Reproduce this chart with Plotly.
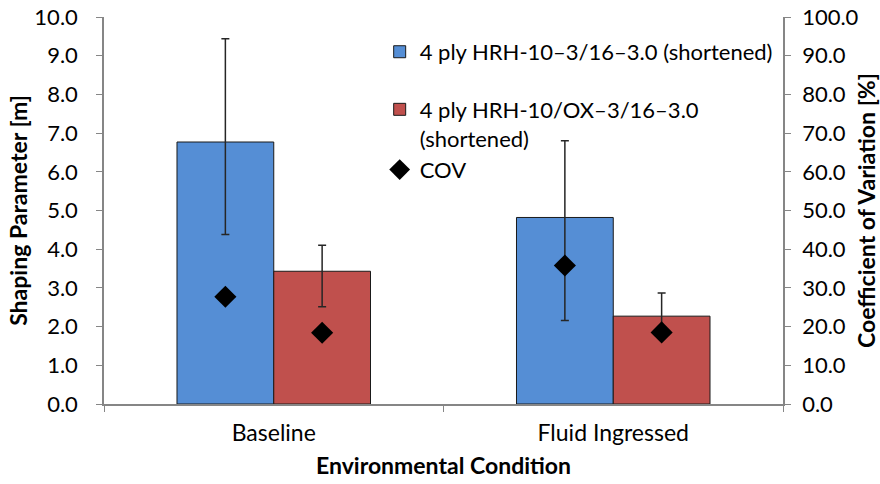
import plotly.graph_objects as go

# Environmental conditions on the x axis
conditions = ["Baseline", "Fluid Ingressed"]

# Shaping parameter [m] per laminate, with asymmetric error limits
hrh_names = "4 ply HRH-10–3/16–3.0 (shortened)"
ox_names = "4 ply HRH-10/OX–3/16–3.0<br>(shortened)"

hrh_shape = [6.77, 4.82]
hrh_err_plus = [2.67, 1.98]
hrh_err_minus = [2.39, 2.66]

ox_shape = [3.43, 2.27]
ox_err_plus = [0.67, 0.60]
ox_err_minus = [0.92, 0.47]

# Coefficient of variation [%]
hrh_cov = [27.7, 35.8]
ox_cov = [18.4, 18.5]

BLUE = "#558ED5"
RED = "#C0504D"
AXIS_GREY = "#868686"
FONT = "Lato"

fig = go.Figure()

err_style = dict(type="data", symmetric=False, color="#262626", thickness=1.5, width=4)

fig.add_trace(go.Bar(
    x=conditions, y=hrh_shape, name=hrh_names,
    marker=dict(color=BLUE, line=dict(color="#1a1a1a", width=1)),
    error_y=dict(array=hrh_err_plus, arrayminus=hrh_err_minus, **err_style),
    offsetgroup="hrh", legendgroup="g1",
))
fig.add_trace(go.Bar(
    x=conditions, y=ox_shape, name=ox_names,
    marker=dict(color=RED, line=dict(color="#1a1a1a", width=1)),
    error_y=dict(array=ox_err_plus, arrayminus=ox_err_minus, **err_style),
    offsetgroup="ox", legendgroup="g2",
))

diamond = dict(symbol="diamond", size=17, color="black")
fig.add_trace(go.Scatter(
    x=conditions, y=hrh_cov, yaxis="y2", mode="markers", marker=diamond,
    offsetgroup="hrh", name="COV", showlegend=False, legendgroup="g2",
))
fig.add_trace(go.Scatter(
    x=conditions, y=ox_cov, yaxis="y2", mode="markers", marker=diamond,
    offsetgroup="ox", name="COV", legendgroup="g2",
))

tick_font = dict(family=FONT, size=22)
title_font = dict(family=FONT, size=23)

fig.update_layout(
    width=880, height=484,
    margin=dict(l=104, r=97, t=17, b=80),
    plot_bgcolor="white", paper_bgcolor="white",
    font=dict(family=FONT, size=22, color="black"),
    barmode="group", bargap=0.43, bargroupgap=0,
    scattermode="group",
    showlegend=True,
    legend=dict(
        x=0.406, y=0.964, xanchor="left", yanchor="top",
        bgcolor="rgba(0,0,0,0)", font=dict(family=FONT, size=22),
        traceorder="grouped", tracegroupgap=26, valign="top",
        itemwidth=30,
    ),
    xaxis=dict(
        type="category", showline=True, linecolor=AXIS_GREY, linewidth=1.5,
        ticks="outside", tickson="boundaries", ticklen=6, tickcolor=AXIS_GREY,
        showgrid=False, zeroline=False, automargin=False,
        tickfont=dict(family=FONT, size=23), ticklabelstandoff=8,
        title=dict(text="<b>Environmental Condition</b>", font=title_font, standoff=13),
    ),
    yaxis=dict(
        range=[0, 10], dtick=1, tickformat=".1f",
        showline=True, linecolor=AXIS_GREY, linewidth=1.5,
        ticks="outside", ticklen=6, tickcolor=AXIS_GREY,
        showgrid=False, zeroline=False, automargin=False,
        tickfont=tick_font, ticklabelstandoff=14,
        title=dict(text="<b>Shaping Parameter [m]</b>", font=title_font, standoff=0),
    ),
    yaxis2=dict(
        range=[0, 100], dtick=10, tickformat=".1f", overlaying="y", side="right",
        showline=True, linecolor=AXIS_GREY, linewidth=1.5,
        ticks="outside", ticklen=6, tickcolor=AXIS_GREY,
        showgrid=False, zeroline=False, automargin=False,
        tickfont=tick_font, ticklabelstandoff=7,
        title=dict(text="<b>Coefficient of Variation [%]</b>", font=title_font, standoff=4),
    ),
)

fig.write_html("out.html")
